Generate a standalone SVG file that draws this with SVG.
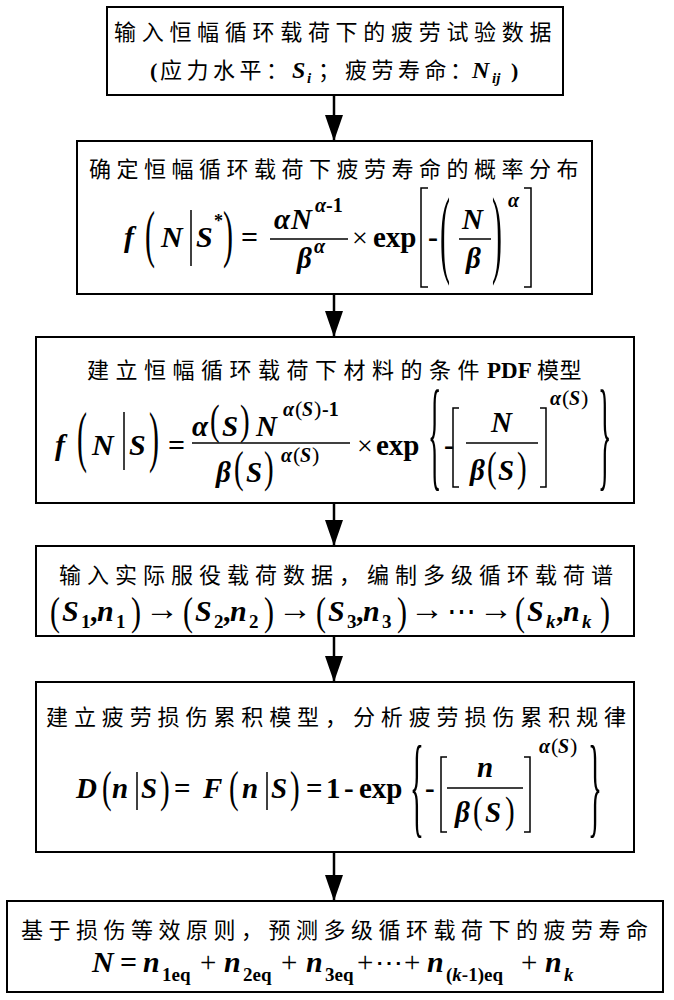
<svg xmlns="http://www.w3.org/2000/svg" width="674" height="1000" viewBox="0 0 674 1000">
<defs>
<style>
.box{fill:#fff;stroke:#000;stroke-width:2}
.cjk{font-family:"Noto Sans CJK SC","Noto Sans CJK JP",sans-serif;font-size:22px;fill:#000}
.m{font-family:"Liberation Serif","DejaVu Serif",serif;font-weight:bold;fill:#000}
.i{font-style:italic}
.d{font-family:"Liberation Serif","DejaVu Serif",serif;font-weight:normal;font-style:normal;fill:#000}
.rule{stroke:#000;stroke-width:1.5;fill:none}
</style>
<marker id="ah" markerUnits="userSpaceOnUse" markerWidth="26" markerHeight="18" viewBox="0 0 26 18" refX="26" refY="9" orient="auto">
<path d="M0,0 L26,9 L0,18 z" fill="#000"/>
</marker>
</defs>
<rect width="674" height="1000" fill="#fff"/>

<g id="connectors" stroke="#000" stroke-width="2.5" marker-end="url(#ah)">
<line x1="334" y1="95" x2="334" y2="141"/>
<line x1="334" y1="294" x2="334" y2="337"/>
<line x1="334" y1="503" x2="334" y2="546"/>
<line x1="334" y1="636" x2="334" y2="682"/>
<line x1="334" y1="852" x2="334" y2="901"/>
</g>

<g id="node1">
<rect class="box" x="107" y="7" width="456" height="88"/>
<text class="cjk" x="114" y="40" letter-spacing="5.7">输入恒幅循环载荷下的疲劳试验数据</text>
<text class="m" font-size="22" x="150" y="78">(</text>
<text class="cjk" x="160" y="78" letter-spacing="4.5">应力水平</text>
<text class="cjk" x="266" y="78">：</text>
<text class="m" font-size="24"><tspan class="i" x="292" y="78">S</tspan><tspan class="i" x="307" y="83" font-size="15">i</tspan></text>
<text class="cjk" x="318" y="78">；</text>
<text class="cjk" x="345" y="78" letter-spacing="4.5">疲劳寿命</text>
<text class="cjk" x="450" y="78">：</text>
<text class="m" font-size="24"><tspan class="i" x="472" y="78">N</tspan><tspan class="i" x="492" y="83" font-size="15">ij</tspan><tspan x="511" y="78" font-size="22">)</tspan></text>
</g>

<g id="node2">
<rect class="box" x="77" y="141" width="515" height="153"/>
<text class="cjk" x="89" y="177" letter-spacing="5.5">确定恒幅循环载荷下疲劳寿命的概率分布</text>
<text class="m" font-size="30"><tspan class="i" x="124" y="247">f</tspan><tspan class="i" x="161" y="247">N</tspan><tspan class="i" x="196" y="247">S</tspan><tspan x="214" y="227" font-size="18">*</tspan><tspan x="241" y="247">=</tspan></text>
<text class="d" font-size="30" transform="translate(145,254.7) scale(1,2.146)">(</text>
<line class="rule" x1="191" y1="210" x2="191" y2="266"/>
<text class="d" font-size="30" transform="translate(223,254.7) scale(1,2.146)">)</text>
<line class="rule" x1="270" y1="239" x2="348" y2="239"/>
<text class="m" font-size="29"><tspan class="i" x="274" y="229">α</tspan><tspan class="i" x="291" y="229">N</tspan><tspan class="i" x="315" y="212" font-size="20">α</tspan><tspan font-size="20">-1</tspan></text>
<text class="m" font-size="29"><tspan class="i" x="297" y="268">β</tspan><tspan class="i" x="314" y="253" font-size="20">α</tspan></text>
<text class="d" font-size="28" x="352" y="247">×</text>
<text class="m" font-size="29" x="373" y="247">exp</text>
<polyline class="rule" points="428,188 421,188 421,287 428,287"/>
<text class="m" font-size="30" x="428" y="247">-</text>
<text class="d" font-size="30" transform="translate(440,264.9) scale(1,3.257)">(</text>
<line class="rule" x1="459" y1="239" x2="491" y2="239"/>
<text class="m" font-size="29"><tspan class="i" x="462" y="229">N</tspan><tspan class="i" x="466" y="268">β</tspan></text>
<text class="d" font-size="30" transform="translate(492,264.9) scale(1,3.257)">)</text>
<text class="m i" font-size="20" x="508" y="207">α</text>
<polyline class="rule" points="524,188 531,188 531,287 524,287"/>
</g>

<g id="node3">
<rect class="box" x="36" y="337" width="598" height="166"/>
<text class="cjk" x="87" y="378" letter-spacing="6.5">建立恒幅循环载荷下材料的条件<tspan class="m" font-size="23" x="487" letter-spacing="0">PDF</tspan><tspan x="537" letter-spacing="0.5">模型</tspan></text>
<text class="m" font-size="30"><tspan class="i" x="55" y="455">f</tspan><tspan class="i" x="92" y="455">N</tspan><tspan class="i" x="129" y="455">S</tspan><tspan x="168" y="455">=</tspan></text>
<text class="d" font-size="30" transform="translate(77,458.6) scale(1,2.22)">(</text>
<line class="rule" x1="124" y1="412" x2="124" y2="470"/>
<text class="d" font-size="30" transform="translate(149,458.6) scale(1,2.22)">)</text>
<line class="rule" x1="192" y1="443" x2="350" y2="443"/>
<text class="m" font-size="29"><tspan class="i" x="192" y="436">α</tspan><tspan class="i" x="222" y="436">S</tspan><tspan class="i" x="256" y="436">N</tspan><tspan class="i" x="283" y="416" font-size="20">α</tspan><tspan class="d" x="295" y="416" font-size="22">(</tspan><tspan class="i" x="302" y="416" font-size="20">S</tspan><tspan class="d" x="314" y="416" font-size="22">)</tspan><tspan x="322" y="416" font-size="20">-1</tspan></text>
<text class="d" font-size="29" transform="translate(210,433.8) scale(1,1.43)">(</text>
<text class="d" font-size="29" transform="translate(240,433.8) scale(1,1.43)">)</text>
<text class="m" font-size="29"><tspan class="i" x="216" y="482">β</tspan><tspan class="i" x="246" y="482">S</tspan><tspan class="i" x="281" y="462" font-size="20">α</tspan><tspan class="d" x="293" y="462" font-size="22">(</tspan><tspan class="i" x="300" y="462" font-size="20">S</tspan><tspan class="d" x="312" y="462" font-size="22">)</tspan></text>
<text class="d" font-size="29" transform="translate(234,482.4) scale(1,1.51)">(</text>
<text class="d" font-size="29" transform="translate(264,482.4) scale(1,1.51)">)</text>
<text class="d" font-size="28" x="357" y="455">×</text>
<text class="m" font-size="29" x="376" y="455">exp</text>
<text class="d" font-size="28" transform="translate(428,474.5) scale(1,4.35)">{</text>
<text class="m" font-size="30" x="444" y="455">-</text>
<polyline class="rule" points="459,408 453,408 453,487 459,487"/>
<line class="rule" x1="466" y1="443" x2="538" y2="443"/>
<text class="m" font-size="29"><tspan class="i" x="491" y="432">N</tspan><tspan class="i" x="470" y="480">β</tspan><tspan class="i" x="498" y="480">S</tspan></text>
<text class="d" font-size="29" transform="translate(487,480.8) scale(1,1.43)">(</text>
<text class="d" font-size="29" transform="translate(517,480.8) scale(1,1.43)">)</text>
<polyline class="rule" points="540,408 546,408 546,487 540,487"/>
<text class="m" font-size="20"><tspan class="i" x="550" y="405">α</tspan><tspan class="d" x="562" y="405" font-size="22">(</tspan><tspan class="i" x="569" y="405">S</tspan><tspan class="d" x="581" y="405" font-size="22">)</tspan></text>
<text class="d" font-size="28" transform="translate(598,474.5) scale(1,4.35)">}</text>
</g>

<g id="node4">
<rect class="box" x="36" y="546" width="598" height="90"/>
<text class="cjk" x="59" y="583" letter-spacing="6">输入实际服役载荷数据，编制多级循环载荷谱</text>
<text class="m" font-size="30"><tspan class="i" x="62" y="621">S</tspan><tspan x="81" y="628" font-size="19">1</tspan><tspan x="90" y="621">,</tspan><tspan class="i" x="97" y="621">n</tspan><tspan x="116" y="628" font-size="19">1</tspan><tspan class="i" x="195" y="621">S</tspan><tspan x="214" y="628" font-size="19">2</tspan><tspan x="223" y="621">,</tspan><tspan class="i" x="230" y="621">n</tspan><tspan x="249" y="628" font-size="19">2</tspan><tspan class="i" x="328" y="621">S</tspan><tspan x="347" y="628" font-size="19">3</tspan><tspan x="356" y="621">,</tspan><tspan class="i" x="363" y="621">n</tspan><tspan x="382" y="628" font-size="19">3</tspan><tspan class="i" x="527" y="621">S</tspan><tspan class="i" x="546" y="628" font-size="19">k</tspan><tspan x="556" y="621">,</tspan><tspan class="i" x="563" y="621">n</tspan><tspan class="i" x="582" y="628" font-size="19">k</tspan></text>
<g class="d" font-size="30">
<text transform="translate(50,625) scale(1,1.341)">(</text>
<text transform="translate(131,625) scale(1,1.341)">)</text>
<text transform="translate(183,625) scale(1,1.341)">(</text>
<text transform="translate(264,625) scale(1,1.341)">)</text>
<text transform="translate(316,625) scale(1,1.341)">(</text>
<text transform="translate(397,625) scale(1,1.341)">)</text>
<text transform="translate(515,625) scale(1,1.341)">(</text>
<text transform="translate(600,625) scale(1,1.341)">)</text>
</g>
<text class="d" font-size="34"><tspan x="145" y="620">→</tspan><tspan x="278" y="620">→</tspan><tspan x="410" y="620">→</tspan><tspan x="479" y="620">→</tspan></text>
<text class="d" font-size="29" x="447" y="621">⋯</text>
</g>

<g id="node5">
<rect class="box" x="36" y="682" width="598" height="170"/>
<text class="cjk" x="46" y="725" letter-spacing="5.9">建立疲劳损伤累积模型，分析疲劳损伤累积规律</text>
<text class="m" font-size="29"><tspan class="i" x="76" y="798">D</tspan><tspan class="i" x="112" y="798">n</tspan><tspan class="i" x="141" y="798">S</tspan><tspan x="174" y="798">=</tspan><tspan class="i" x="203" y="798">F</tspan><tspan class="i" x="242" y="798">n</tspan><tspan class="i" x="271" y="798">S</tspan><tspan x="306" y="798">=</tspan><tspan x="326" y="798">1</tspan><tspan x="344" y="798">-</tspan><tspan x="359" y="798">exp</tspan><tspan x="425" y="798">-</tspan></text>
<g class="d" font-size="29">
<text transform="translate(102,802.3) scale(1,1.506)">(</text>
<text transform="translate(160,802.3) scale(1,1.506)">)</text>
<text transform="translate(229,802.3) scale(1,1.506)">(</text>
<text transform="translate(290,802.3) scale(1,1.506)">)</text>
<text transform="translate(410,823.3) scale(1,3.884)">{</text>
<text transform="translate(588,823.3) scale(1,3.884)">}</text>
<text transform="translate(473,823.4) scale(1,1.31)">(</text>
<text transform="translate(505,823.4) scale(1,1.31)">)</text>
</g>
<line class="rule" x1="137" y1="772" x2="137" y2="810"/>
<line class="rule" x1="267" y1="772" x2="267" y2="810"/>
<polyline class="rule" points="447,757 441,757 441,832 447,832"/>
<line class="rule" x1="447" y1="788" x2="523" y2="788"/>
<text class="m" font-size="29"><tspan class="i" x="477" y="777">n</tspan><tspan class="i" x="455" y="822">β</tspan><tspan class="i" x="485" y="822">S</tspan></text>
<polyline class="rule" points="524,757 530,757 530,832 524,832"/>
<text class="m" font-size="20"><tspan class="i" x="539" y="753">α</tspan><tspan class="d" x="551" y="753" font-size="22">(</tspan><tspan class="i" x="558" y="753">S</tspan><tspan class="d" x="570" y="753" font-size="22">)</tspan></text>
</g>

<g id="node6">
<rect class="box" x="7" y="901" width="656" height="91"/>
<text class="cjk" x="21" y="938" letter-spacing="5.5">基于损伤等效原则，预测多级循环载荷下的疲劳寿命</text>
<text class="m" font-size="30"><tspan class="i" x="92" y="972">N</tspan><tspan x="120" y="972">=</tspan><tspan class="i" x="143" y="972">n</tspan><tspan x="162" y="981" font-size="19">1eq</tspan><tspan class="d" x="200" y="972" font-size="29">+</tspan><tspan class="i" x="224" y="972">n</tspan><tspan x="243" y="981" font-size="19">2eq</tspan><tspan class="d" x="281" y="972" font-size="29">+</tspan><tspan class="i" x="306" y="972">n</tspan><tspan x="325" y="981" font-size="19">3eq</tspan><tspan class="d" x="357" y="972" font-size="29">+</tspan><tspan class="d" x="404" y="972" font-size="29">+</tspan><tspan class="i" x="427" y="972">n</tspan><tspan x="446" y="981" font-size="19">(</tspan><tspan class="i" font-size="19">k</tspan><tspan font-size="19">-1)eq</tspan><tspan class="d" x="521" y="972" font-size="29">+</tspan><tspan class="i" x="545" y="972">n</tspan><tspan class="i" x="564" y="981" font-size="19">k</tspan></text>
<text class="d" font-size="28" x="375" y="972">⋯</text>
</g>
</svg>
